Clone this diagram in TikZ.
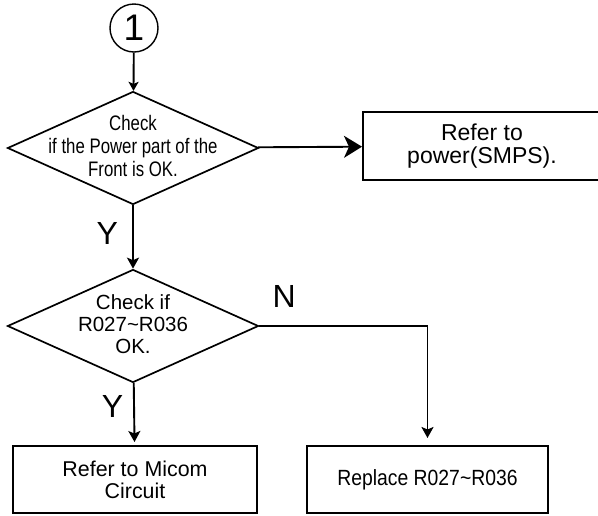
\documentclass[tikz,border=0pt]{standalone}
\usepackage{fontspec}
\setmainfont{Liberation Sans}
\newfontfamily\narrowfont[FakeStretch=0.8]{Liberation Sans}
\newfontfamily\semifont[FakeStretch=0.88]{Liberation Sans}
\usetikzlibrary{shapes.geometric,arrows.meta,positioning}

\begin{document}
\begin{tikzpicture}[x=1pt, y=-1pt, line width=1.9pt,
   stepbox/.style={draw,rectangle,inner sep=0pt,align=center,line width=2pt},
   decide/.style={draw,diamond,inner sep=0pt,line width=1.7pt,minimum width=251pt,minimum height=113pt},
   arr/.style={-{Stealth[length=11pt,width=12pt,inset=2.5pt]}},
   yn/.style={font=\fontsize{32}{32}\selectfont}]
   \useasboundingbox (0,0) rectangle (598,515);
   \node[draw,circle,line width=1.4pt,minimum size=48pt,inner sep=0pt,font=\fontsize{37}{37}\selectfont] (one) at (134,28) {1};
   \node[decide,label={[align=center,yshift=2pt,font=\narrowfont\fontsize{21}{23}\selectfont]center:Check\\if the Power part of the\\Front is OK.}] (front) at (133,148) {};
   \node[stepbox,minimum width=238pt,minimum height=68pt,font=\fontsize{23}{23}\selectfont] (smps) at (482,146) {Refer to\\power(SMPS).};
   \node[decide,label={[align=center,yshift=2pt,font=\fontsize{20.5}{22}\selectfont]center:Check if\\R027\textasciitilde R036\\OK.}] (resist) at (133,326) {};
   \node[stepbox,minimum width=244pt,minimum height=67pt,font=\fontsize{21.4}{22}\selectfont] (micom) at (135,479.5) {Refer to Micom\\Circuit};
   \node[stepbox,minimum width=241pt,minimum height=67pt,font=\semifont\fontsize{22}{22}\selectfont] (replace) at (427.5,479.5) {Replace R027\textasciitilde R036};
   \draw[-{Stealth[length=9pt,width=10pt,inset=2pt]}] (one) -- (front);
   \draw[-{Stealth[length=18pt,width=22pt,inset=5pt]}] (front) -- (smps);
   \draw[arr] (front) -- node[left,yn,inner sep=14pt,pos=0.45] {Y} (resist);
   \draw[arr,shorten >=3pt] (resist) -- node[left,yn,inner sep=10pt,pos=0.38] {Y} (micom);
   \draw[arr,shorten >=7pt] (resist.east) -| node[above=14pt,yn,pos=0.074] {N} (replace); % N branch goes down to the right box
\end{tikzpicture}
\end{document}
